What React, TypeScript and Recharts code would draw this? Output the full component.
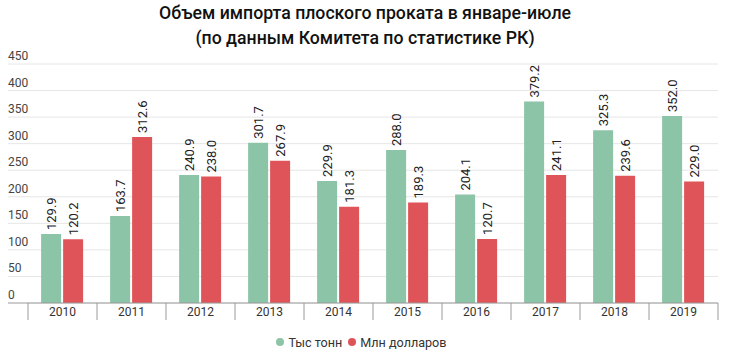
import React from "react";
import { BarChart, Bar, XAxis, YAxis, CartesianGrid, LabelList } from "recharts";

const years = ["2010", "2011", "2012", "2013", "2014", "2015", "2016", "2017", "2018", "2019"];
const tonnes = [129.9, 163.7, 240.9, 301.7, 229.9, 288.0, 204.1, 379.2, 325.3, 352.0];
const dollars = [120.2, 312.6, 238.0, 267.9, 181.3, 189.3, 120.7, 241.1, 239.6, 229.0];
const yTicks = [0, 50, 100, 150, 200, 250, 300, 350, 400, 450];
const seriesNames = ["Тыс тонн", "Млн долларов"];

const data = years.map((y, i) => ({ year: y, t: tonnes[i], d: dollars[i] }));

const W = 730;
const H = 355;
const M = { top: 64, right: 12, bottom: 32, left: 8 };
const Y_W = 20;
const X_H = 20;
const PLOT_L = M.left + Y_W;
const PLOT_R = W - M.right;
const BAND = (PLOT_R - PLOT_L) / years.length;
const GREEN = "#8cc4a7";
const RED = "#df5458";
const FONT = "Roboto, 'Noto Sans', sans-serif";

const YTick = (props: any) => {
  const { y, payload } = props;
  return (
    <g>
      <line x1={M.left} x2={PLOT_L} y1={y} y2={y} stroke={payload.value === 0 ? "#9a9a9a" : "#e6e6e6"} strokeWidth={1} />
      <text x={M.left} y={y - 4} fontSize={12} fill="#444" fontFamily={FONT} textAnchor="start">
        {payload.value}
      </text>
    </g>
  );
};

const XTick = (props: any) => {
  const { x, payload } = props;
  const top = H - M.bottom - X_H;
  return (
    <g>
      <line x1={x - BAND / 2} x2={x - BAND / 2} y1={top} y2={top + 17} stroke="#9a9a9a" />
      {payload.index === years.length - 1 ? (
        <line x1={x + BAND / 2} x2={x + BAND / 2} y1={top} y2={top + 17} stroke="#9a9a9a" />
      ) : null}
      <text x={x} y={top + 13} fontSize={12} fill="#333" fontFamily={FONT} textAnchor="middle">
        {payload.value}
      </text>
    </g>
  );
};

const RotLabel = (props: any) => {
  const { x, y, width, value } = props;
  const cx = x + width / 2;
  const ly = y - 4;
  return (
    <text
      x={cx}
      y={ly}
      transform={`rotate(-90, ${cx}, ${ly})`}
      fontSize={13}
      fill="#222"
      fontFamily={FONT}
      textAnchor="start"
      dominantBaseline="central"
    >
      {Number(value).toFixed(1)}
    </text>
  );
};

const Dot = ({ color }: { color: string }) => (
  <span style={{ width: 8, height: 8, borderRadius: 4, background: color, display: "inline-block", marginRight: 4 }} />
);

export default function App() {
  return (
    <div style={{ position: "absolute", left: 0, top: 0, width: W, height: H, background: "#fff", fontFamily: FONT }}>
      <div
        style={{
          position: "absolute",
          left: 0,
          top: 1,
          width: W,
          textAlign: "center",
          fontSize: 17.7,
          fontWeight: 500,
          lineHeight: "25px",
          color: "#111",
        }}
      >
        Объем импорта плоского проката в январе-июле
        <br />
        (по данным Комитета по статистике РК)
      </div>
      <BarChart width={W} height={H} data={data} margin={M} barCategoryGap="19%" barGap={2}>
        <CartesianGrid vertical={false} stroke="#e6e6e6" />
        <YAxis
          width={Y_W}
          domain={[0, 450]}
          ticks={yTicks}
          axisLine={false}
          tickLine={false}
          tick={<YTick />}
          interval={0}
        />
        <XAxis
          dataKey="year"
          height={X_H}
          axisLine={{ stroke: "#9a9a9a" }}
          tickLine={false}
          tick={<XTick />}
          interval={0}
        />
        <Bar dataKey="t" name={seriesNames[0]} fill={GREEN} isAnimationActive={false}>
          <LabelList dataKey="t" content={<RotLabel />} />
        </Bar>
        <Bar dataKey="d" name={seriesNames[1]} fill={RED} isAnimationActive={false}>
          <LabelList dataKey="d" content={<RotLabel />} />
        </Bar>
      </BarChart>
      <div
        style={{
          position: "absolute",
          top: 334,
          left: 0,
          width: W,
          height: 16,
          display: "flex",
          justifyContent: "center",
          alignItems: "center",
          fontSize: 12.6,
          color: "#333",
          paddingRight: 7,
          boxSizing: "border-box",
        }}
      >
        <Dot color={GREEN} />
        <span style={{ marginRight: 6 }}>{seriesNames[0]}</span>
        <Dot color={RED} />
        <span>{seriesNames[1]}</span>
      </div>
    </div>
  );
}
